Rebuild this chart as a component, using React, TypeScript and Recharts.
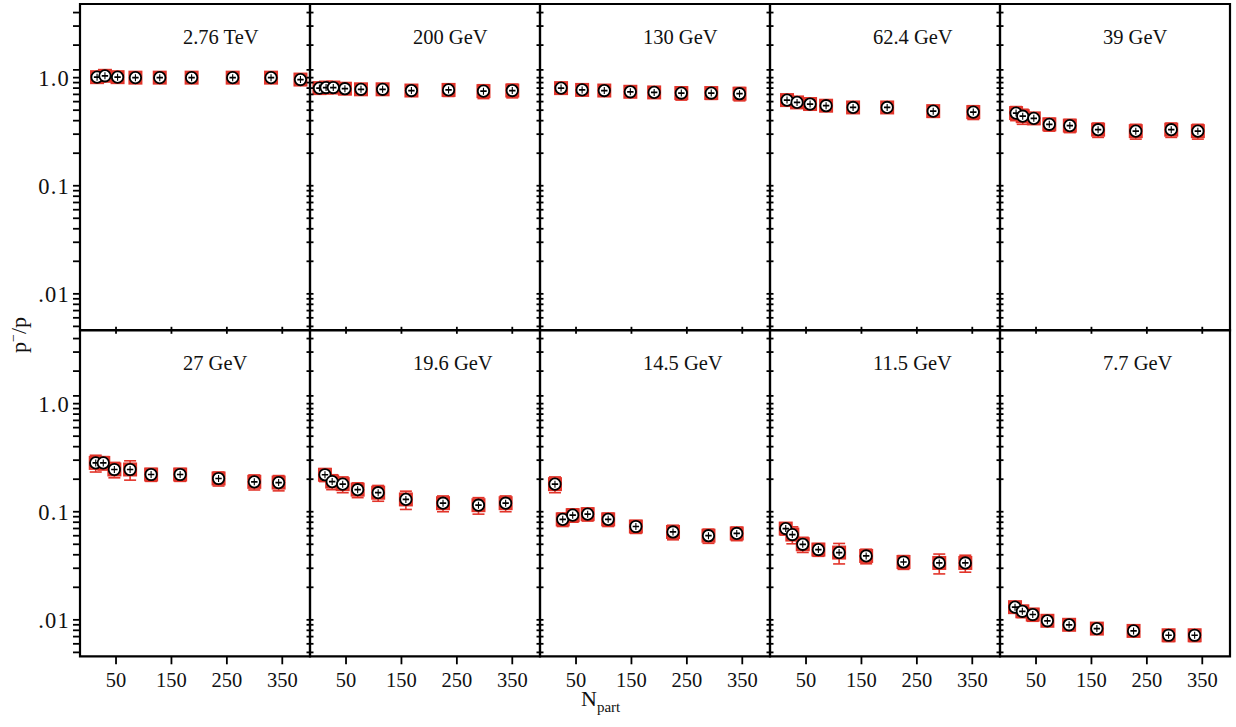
import React from 'react';
import { ScatterChart, Scatter, XAxis, YAxis, ErrorBar, ReferenceArea, Customized } from 'recharts';

// ---------- data ----------
const energies = ['2.76 TeV', '200 GeV', '130 GeV', '62.4 GeV', '39 GeV', '27 GeV', '19.6 GeV', '14.5 GeV', '11.5 GeV', '7.7 GeV'];

const npart276 = [15.8, 30.0, 52.8, 85.0, 128.9, 186.4, 260.5, 329.7, 382.8];
const ratio276 = [1.01, 1.04, 1.01, 1.0, 1.0, 1.0, 1.0, 1.0, 0.96];
const err276 = [0.06, 0.07, 0.05, 0.05, 0.05, 0.05, 0.05, 0.05, 0.05];

const npart200 = [2, 14, 27, 48, 77, 116, 168, 235, 298, 350];
const ratio200 = [0.8, 0.81, 0.81, 0.79, 0.78, 0.78, 0.76, 0.77, 0.75, 0.76];
const err200 = [0.04, 0.05, 0.05, 0.05, 0.06, 0.07, 0.08, 0.1, 0.11, 0.11];

const npart130 = [23, 61, 101, 148, 191, 240, 294, 345];
const ratio130 = [0.8, 0.77, 0.76, 0.74, 0.73, 0.72, 0.72, 0.71];
const err130 = [0.06, 0.07, 0.07, 0.08, 0.08, 0.1, 0.09, 0.1];

const npart624 = [15.7, 33.8, 57.3, 86.2, 134.9, 196.4, 279.5, 351.8];
const ratio624 = [0.62, 0.59, 0.57, 0.55, 0.53, 0.53, 0.49, 0.48];
const err624 = [0.06, 0.06, 0.05, 0.05, 0.06, 0.06, 0.06, 0.07];

const npart39 = [14, 26, 46, 74, 111, 162, 230, 294, 342];
const ratio39 = [0.47, 0.44, 0.42, 0.37, 0.36, 0.33, 0.32, 0.33, 0.32];
const err39 = [0.07, 0.07, 0.05, 0.05, 0.05, 0.05, 0.05, 0.05, 0.05];

const npart27 = [13.4, 27, 47, 75.4, 113.3, 165.7, 235, 299.5, 343.4];
const ratio27 = [0.283, 0.283, 0.246, 0.246, 0.221, 0.221, 0.203, 0.189, 0.186];
const err27 = [0.05, 0.04, 0.04, 0.05, 0.03, 0.03, 0.03, 0.03, 0.03];

const npart196 = [12, 25, 44, 71, 108, 158, 225, 289, 338];
const ratio196 = [0.22, 0.19, 0.18, 0.16, 0.15, 0.13, 0.12, 0.115, 0.12];
const err196 = [0.03, 0.03, 0.03, 0.025, 0.025, 0.025, 0.02, 0.02, 0.02];

const npart145 = [12, 26, 44, 71, 108, 158, 225, 289, 340];
const ratio145 = [0.18, 0.085, 0.093, 0.095, 0.085, 0.073, 0.065, 0.06, 0.063];
const err145 = [0.03, 0.012, 0.013, 0.013, 0.012, 0.01, 0.01, 0.009, 0.009];

const npart115 = [13.4, 25.3, 44.1, 72.3, 109.7, 158.5, 225.9, 290.4, 337.4];
const ratio115 = [0.0699, 0.0615, 0.05, 0.0447, 0.0419, 0.039, 0.0343, 0.0336, 0.0336];
const err115 = [0.009, 0.011, 0.008, 0.006, 0.009, 0.006, 0.005, 0.007, 0.006];

const npart77 = [12.1, 25.3, 44.1, 70.5, 109.7, 159.8, 226, 289.2, 336.2];
const ratio77 = [0.0131, 0.012, 0.0112, 0.0098, 0.009, 0.0083, 0.0079, 0.0072, 0.0072];
const err77 = [0.0015, 0.0015, 0.0015, 0.001, 0.001, 0.0008, 0.0008, 0.0009, 0.0009];

const xTicks = [50, 150, 250, 350];
const xDomain = [-15, 400];
const yDomain = [0.0046, 4.8];
const yMajorTicks = [0.01, 0.1, 1];
const yMajorLabels = ['.01', '0.1', '1.0'];
const yMinorTicks = [
  0.005, 0.006, 0.007, 0.008, 0.009,
  0.02, 0.03, 0.04, 0.05, 0.06, 0.07, 0.08, 0.09,
  0.2, 0.3, 0.4, 0.5, 0.6, 0.7, 0.8, 0.9,
  1.18, 2, 3, 4,
];

const seriesX = [npart276, npart200, npart130, npart624, npart39, npart27, npart196, npart145, npart115, npart77];
const seriesY = [ratio276, ratio200, ratio130, ratio624, ratio39, ratio27, ratio196, ratio145, ratio115, ratio77];
const seriesE = [err276, err200, err130, err624, err39, err27, err196, err145, err115, err77];

// ---------- layout ----------
const RED = '#e2342a';
const FONT = '"Liberation Serif", "Times New Roman", serif';
const PANEL_W = 230;
const PANEL_H = 326.3;
const PANEL_LEFT0 = 80;
const PANEL_TOPS = [3.5, 330];
const ML = 80;
const MR = 12;
const MT = 12;
const MB = 60;

const SquareShape = (props: any) => {
  const { cx, cy } = props;
  if (cx == null || cy == null) return null;
  return <rect x={cx - 7} y={cy - 7} width={14} height={14} fill={RED} />;
};

const CircleShape = (props: any) => {
  const { cx, cy } = props;
  if (cx == null || cy == null) return null;
  return (
    <g>
      <circle cx={cx} cy={cy} r={5.7} fill="#fff" stroke="#000" strokeWidth={1.8} />
      <line x1={cx - 3.2} x2={cx + 3.2} y1={cy} y2={cy} stroke="#000" strokeWidth={1.7} />
      <line x1={cx} x2={cx} y1={cy - 3.5} y2={cy + 3.5} stroke="#000" strokeWidth={1.1} />
    </g>
  );
};

function Panel({ idx }: { idx: number }) {
  const col = idx % 5;
  const row = Math.floor(idx / 5);
  const left = PANEL_LEFT0 + col * PANEL_W;
  const top = PANEL_TOPS[row];
  const data = seriesX[idx].map((x, i) => ({ x, y: seriesY[idx][i], e: seriesE[idx][i] }));
  const yTicks = [...yMajorTicks, ...yMinorTicks];
  const plotBottom = MT + PANEL_H;

  const YTick = (p: any) => {
    const v = p.payload.value;
    const y = p.y;
    const majorIdx = yMajorTicks.indexOf(v);
    if (col === 0) {
      return (
        <g>
          <line x1={ML - 7} x2={ML} y1={y} y2={y} stroke="#000" strokeWidth={1.8} />
          {majorIdx >= 0 && (
            <text x={ML - 10} y={y} dy="0.35em" textAnchor="end" fontFamily={FONT} fontSize={22.5} letterSpacing={1.2} fill="#111">
              {yMajorLabels[majorIdx]}
            </text>
          )}
        </g>
      );
    }
    return <line x1={ML - 3.5} x2={ML + 3.5} y1={y} y2={y} stroke="#000" strokeWidth={1.8} />;
  };

  const XTick = (p: any) => {
    const x = p.x;
    if (row === 1) {
      return (
        <g>
          <line x1={x} x2={x} y1={plotBottom} y2={plotBottom + 8} stroke="#000" strokeWidth={1.8} />
          <text x={x} y={plotBottom + 31} textAnchor="middle" fontFamily={FONT} fontSize={20.5} fill="#111">
            {p.payload.value}
          </text>
        </g>
      );
    }
    return <line x1={x} x2={x} y1={plotBottom - 3.5} y2={plotBottom + 3.5} stroke="#000" strokeWidth={1.8} />;
  };

  const Title = () => (
    <text x={ML + 103} y={MT + 40.5} fontFamily={FONT} fontSize={20.5} fill="#111">
      {energies[idx]}
    </text>
  );

  return (
    <div style={{ position: 'absolute', left: left - ML, top: top - MT }}>
      <ScatterChart
        width={ML + PANEL_W + MR}
        height={MT + PANEL_H + MB}
        margin={{ top: MT, right: MR, bottom: 0, left: 0 }}
      >
        <XAxis
          type="number"
          dataKey="x"
          domain={xDomain}
          ticks={xTicks}
          interval={0}
          allowDataOverflow
          height={MB}
          axisLine={false}
          tickLine={false}
          tick={XTick}
        />
        <YAxis
          type="number"
          dataKey="y"
          scale="log"
          domain={yDomain}
          ticks={yTicks}
          interval={0}
          allowDataOverflow
          width={ML}
          axisLine={false}
          tickLine={false}
          tick={YTick}
        />
        <ReferenceArea
          x1={xDomain[0]}
          x2={xDomain[1]}
          y1={yDomain[0]}
          y2={yDomain[1]}
          fill="none"
          stroke="#000"
          strokeWidth={2.2}
          ifOverflow="visible"
        />
        <Customized component={Title} />
        <Scatter data={data} shape={SquareShape} isAnimationActive={false}>
          <ErrorBar dataKey="e" direction="y" width={6} stroke={RED} strokeWidth={1.6} />
        </Scatter>
        <Scatter data={data} shape={CircleShape} isAnimationActive={false} />
      </ScatterChart>
    </div>
  );
}

export default function App() {
  return (
    <div style={{ position: 'absolute', left: 0, top: 0, width: 1236, height: 727, background: '#fff', overflow: 'hidden' }}>
      {energies.map((_, i) => (
        <Panel key={i} idx={i} />
      ))}
      <svg width={1236} height={727} style={{ position: 'absolute', left: 0, top: 0, pointerEvents: 'none' }}>
        <text transform="translate(26,335) rotate(-90)" textAnchor="middle" fontFamily={FONT} fontSize={22} fill="#111">
          p<tspan dy={-8} fontSize={14}>−</tspan><tspan dy={8}>/p</tspan>
        </text>
        <text x={581} y={706} fontFamily={FONT} fontSize={22} fill="#111">
          N<tspan dy={6} fontSize={15}>part</tspan>
        </text>
      </svg>
    </div>
  );
}
